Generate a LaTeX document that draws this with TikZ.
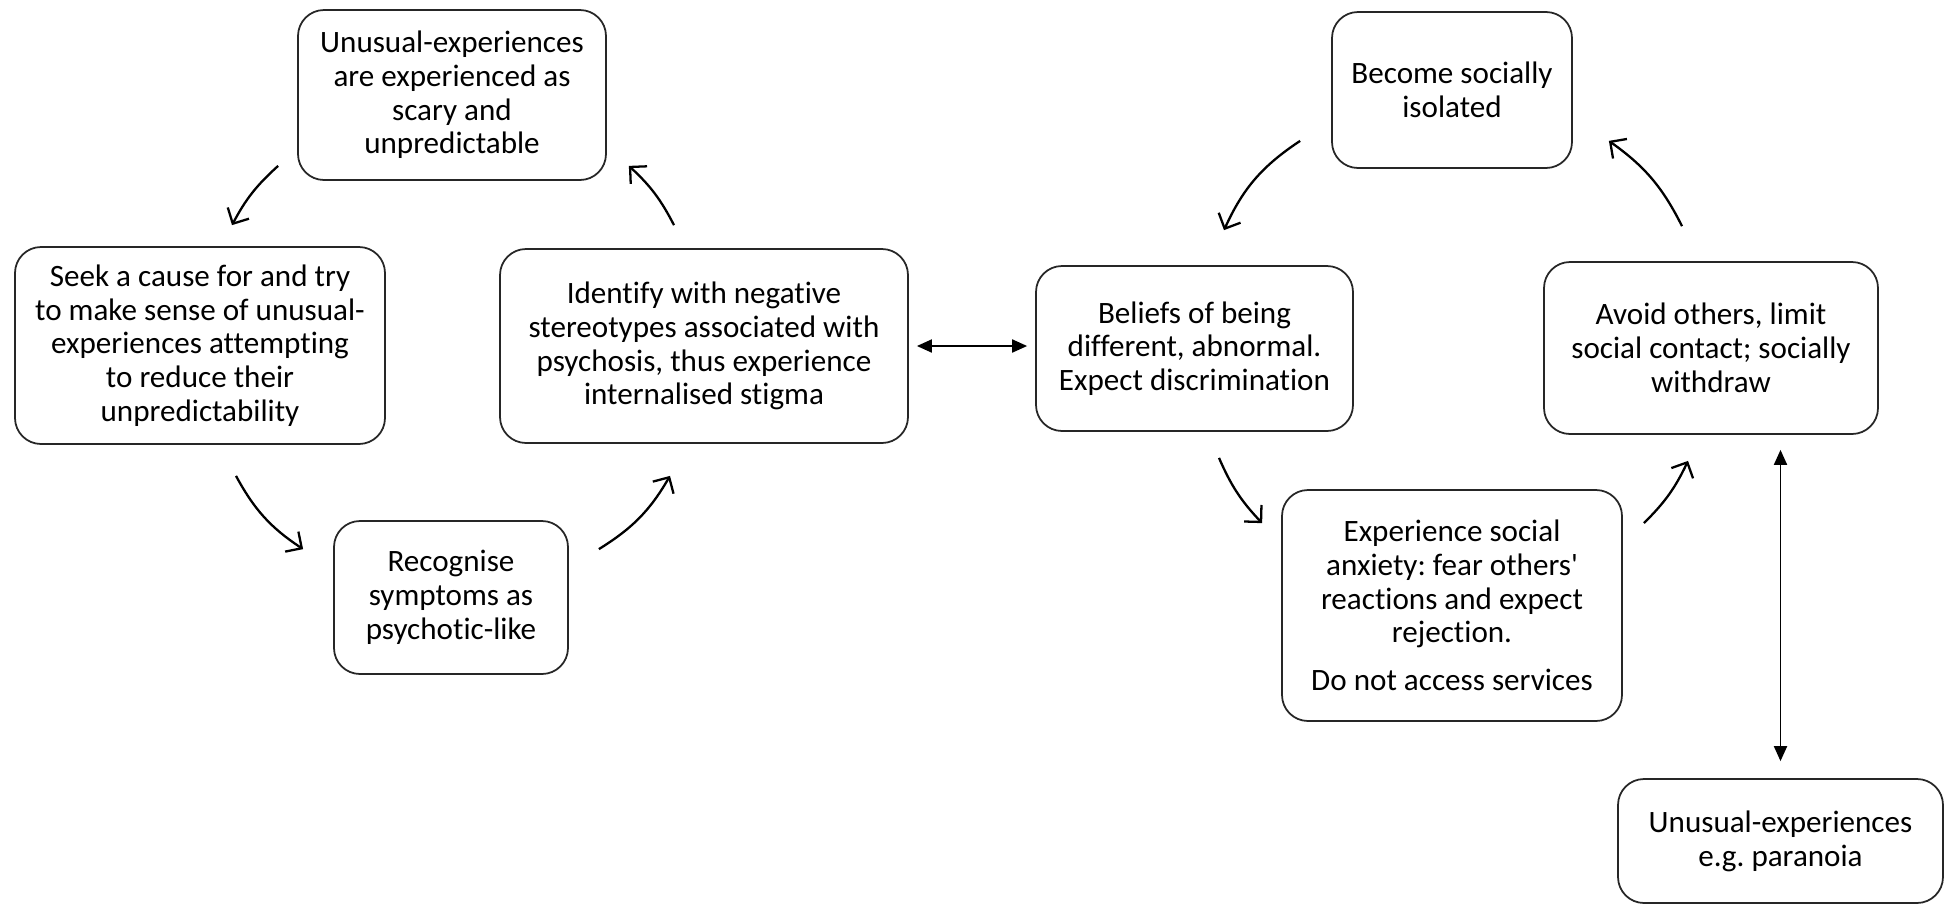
\documentclass[tikz,border=0pt]{standalone}
\usepackage{fontspec}
\setmainfont{Carlito}[Ligatures={TeXOff,NoCommon}]
\usetikzlibrary{arrows.meta,calc}
\frenchspacing

\begin{document}
\begin{tikzpicture}[x=0.1mm,y=-0.1mm,
  box/.style={draw=black!85, line width=0.5pt, rounded corners=2.6mm,
    align=center, inner sep=0pt, font=\fontsize{8.85}{9.6}\selectfont},
  flow/.style={-{Straight Barb[length=1.2mm,width=2.4mm]}, line width=0.65pt},
  link/.style={{Triangle[length=1.5mm,width=1.3mm]}-{Triangle[length=1.5mm,width=1.3mm]}, line width=0.55pt}]

\useasboundingbox (0,0) rectangle (1946,905);

% left cycle
\node[box, minimum width=30.8mm, minimum height=17mm] (A) at (452,95)
  {Unusual-experiences\\are experienced as\\scary and\\unpredictable};
\node[box, minimum width=37mm, minimum height=19.7mm] (B) at (200,345.5)
  {Seek a cause for and try\\to make sense of unusual-\\experiences attempting\\to reduce their\\unpredictability};
\node[box, minimum width=40.8mm, minimum height=19.4mm] (C) at (704,346)
  {Identify with negative\\stereotypes associated with\\psychosis, thus experience\\internalised stigma};
\node[box, minimum width=23.4mm, minimum height=15.3mm] (D) at (451,597.5)
  {Recognise\\symptoms as\\psychotic-like};

% right cycle
\node[box, minimum width=31.7mm, minimum height=16.5mm] (E) at (1194.5,348.5)
  {Beliefs of being\\different, abnormal.\\Expect discrimination};
\node[box, minimum width=24mm, minimum height=15.6mm] (F) at (1452,90)
  {Become socially\\isolated};
\node[box, minimum width=33.4mm, minimum height=17.2mm] (G) at (1711,348)
  {Avoid others, limit\\social contact; socially\\withdraw};
\node[box, minimum width=34mm, minimum height=23.1mm] (H) at (1452,605.5)
  {Experience social\\anxiety: fear others'\\reactions and expect\\rejection.\\[4pt]Do not access services};
\node[box, minimum width=32.5mm, minimum height=12.4mm] (I) at (1780.5,841)
  {Unusual-experiences\\e.g. paranoia};

% left cycle arrows
\draw[flow] ([shift={(-19,-15)}]A.south west) to[bend right=10] ([shift={(32,-21)}]B.north);
\draw[flow] ([shift={(36,31)}]B.south) to[bend right=14] ([shift={(-30,29)}]D.north west);
\draw[flow] ([shift={(30,29)}]D.north east) to[bend right=14] ([shift={(-34,32)}]C.south);
\draw[flow] ([shift={(-30,-23)}]C.north) to[bend right=10] ([shift={(22,-15)}]A.south east);

% right cycle arrows
\draw[flow] ([shift={(-31,-28)}]F.south west) to[bend right=16] ([shift={(29.5,-35)}]E.north);
\draw[flow] ([shift={(24.5,26)}]E.south) to[bend right=10] ([shift={(-19,34)}]H.north west);
\draw[flow] ([shift={(21,34)}]H.north east) to[bend right=10] ([shift={(-23,26)}]G.south);
\draw[flow] ([shift={(-29,-35)}]G.north) to[bend right=14] ([shift={(36,-28)}]F.south east);

% two-way links
\draw[link] ([xshift=0.8mm]C.east) -- ([xshift=-0.8mm]C.east -| E.west);
\draw[link] ([yshift=-1.5mm]G.south -| I.north) -- ([yshift=1.7mm]I.north);
\end{tikzpicture}
\end{document}
